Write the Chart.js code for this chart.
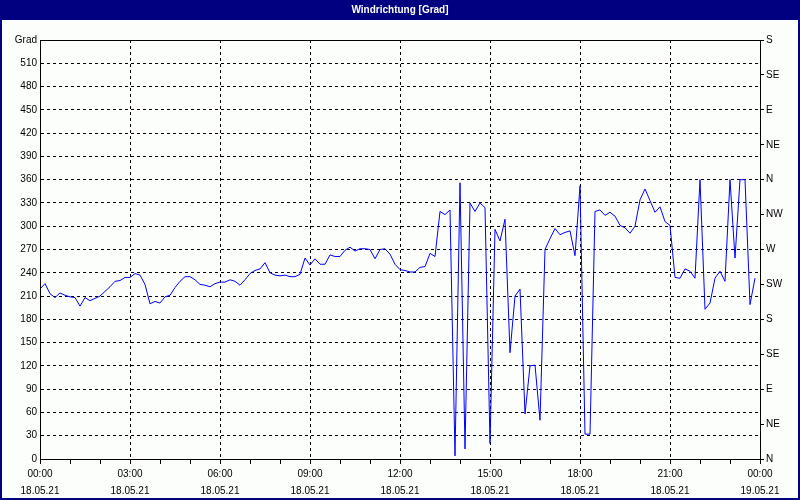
<!DOCTYPE html>
<html>
<head>
<meta charset="utf-8">
<script src="https://cdn.jsdelivr.net/npm/chart.js@4/dist/chart.umd.min.js"></script>
<style>
  html, body { margin: 0; padding: 0; background: #fcfefc; }
  canvas { display: block; }
</style>
</head>
<body>
<canvas id="chart" width="800" height="500"></canvas>
<script>
// 10-minute wind direction samples, 18.05.21 00:00 .. 23:50
const sampleStep = 10; // minutes
const windDir = [
  219, 226, 213, 208, 214, 211, 209, 208, 197, 208, 204, 207,
  210, 216, 222, 229, 230, 234, 234, 239, 237, 225, 200, 203,
  201, 209, 211, 221, 229, 235, 235, 231, 225, 224, 222, 226,
  228, 228, 231, 229, 224, 231, 239, 243, 245, 253, 240, 237,
  236, 237, 235, 235, 238, 259, 250, 258, 251, 251, 263, 261,
  261, 269, 273, 268, 271, 271, 270, 258, 270, 271, 264, 251,
  244, 243, 241, 241, 247, 248, 265, 261, 319, 315, 321, 4,
  356, 13, 330, 319, 330, 324, 20, 296, 281, 309, 137, 210,
  219, 58, 120, 121, 50, 270, 284, 297, 289, 292, 294, 262,
  352, 32, 32, 319, 321, 314, 318, 313, 301, 298, 291, 300,
  334, 348, 333, 318, 325, 306, 301, 234, 233, 245, 242, 233,
  360, 193, 201, 233, 242, 229, 360, 259, 360, 360, 199, 233
];

const timeTicks = ['00:00', '03:00', '06:00', '09:00', '12:00', '15:00', '18:00', '21:00', '00:00'];
const dateTicks = ['18.05.21', '18.05.21', '18.05.21', '18.05.21', '18.05.21', '18.05.21', '18.05.21', '18.05.21', '19.05.21'];
const compassTicks = ['N', 'NE', 'E', 'SE', 'S', 'SW', 'W', 'NW', 'N', 'NE', 'E', 'SE', 'S'];

Chart.defaults.font.family = "'Liberation Sans', Arial, sans-serif";
Chart.defaults.font.size = 10;
Chart.defaults.color = '#000';

const pageDecor = {
  id: 'pageDecor',
  beforeDraw(chart) {
    const { ctx, width, height } = chart;
    ctx.save();
    ctx.fillStyle = '#fcfefc';
    ctx.fillRect(0, 0, width, height);
    ctx.fillStyle = '#000080';
    ctx.fillRect(0, 0, width, 20);
    ctx.strokeStyle = '#000080';
    ctx.lineWidth = 2;
    ctx.strokeRect(1, 1, width - 2, height - 2);
    ctx.restore();
  },
  afterDraw(chart) {
    const { ctx, chartArea: a } = chart;
    ctx.save();
    ctx.strokeStyle = '#000';
    ctx.lineWidth = 1;
    ctx.strokeRect(a.left + 0.5, a.top + 0.5, a.right - a.left, a.bottom - a.top);
    ctx.restore();
  }
};

new Chart(document.getElementById('chart'), {
  type: 'line',
  data: {
    datasets: [{
      data: windDir.map((v, i) => ({ x: i * sampleStep, y: v })),
      borderColor: '#0000ff',
      borderWidth: 1,
      pointRadius: 0,
      tension: 0,
      fill: false
    }]
  },
  options: {
    responsive: false,
    animation: false,
    devicePixelRatio: 1,
    layout: { padding: { left: 2, right: 2, top: 0, bottom: 2 } },
    plugins: {
      legend: { display: false },
      tooltip: { enabled: false },
      title: {
        display: true,
        text: 'Windrichtung [Grad]',
        color: '#fff',
        font: { size: 10, weight: 'bold', lineHeight: 1.2 },
        padding: { top: 4, bottom: 24 }
      }
    },
    scales: {
      x: {
        type: 'linear',
        min: 0,
        max: 1440,
        afterFit(s) { s.height = 39; },
        ticks: {
          stepSize: 60,
          autoSkip: false,
          maxRotation: 0,
          padding: 2,
          font: { size: 10, lineHeight: 1.7 },
          callback(v) {
            return v % 180 === 0 ? [timeTicks[v / 180], dateTicks[v / 180]] : '';
          }
        },
        grid: {
          color: c => (c.tick && c.tick.value % 180 === 0) ? '#000' : 'rgba(0,0,0,0)',
          tickColor: '#000',
          tickLength: 5
        },
        border: { color: '#000', dash: [3, 3] }
      },
      y: {
        min: 0,
        max: 540,
        afterFit(s) { s.width = 38; },
        ticks: {
          stepSize: 30,
          padding: 3,
          callback(v) { return v === 540 ? 'Grad' : v; }
        },
        grid: { color: '#000', drawTicks: false },
        border: { color: '#000', dash: [3, 3] }
      },
      y2: {
        position: 'right',
        min: 0,
        max: 540,
        afterFit(s) { s.width = 38; },
        ticks: {
          stepSize: 45,
          padding: 2,
          callback(v) { return compassTicks[v / 45]; }
        },
        grid: { drawOnChartArea: false, color: '#000', tickLength: 4 },
        border: { color: '#000' }
      }
    }
  },
  plugins: [pageDecor]
});
</script>
</body>
</html>
